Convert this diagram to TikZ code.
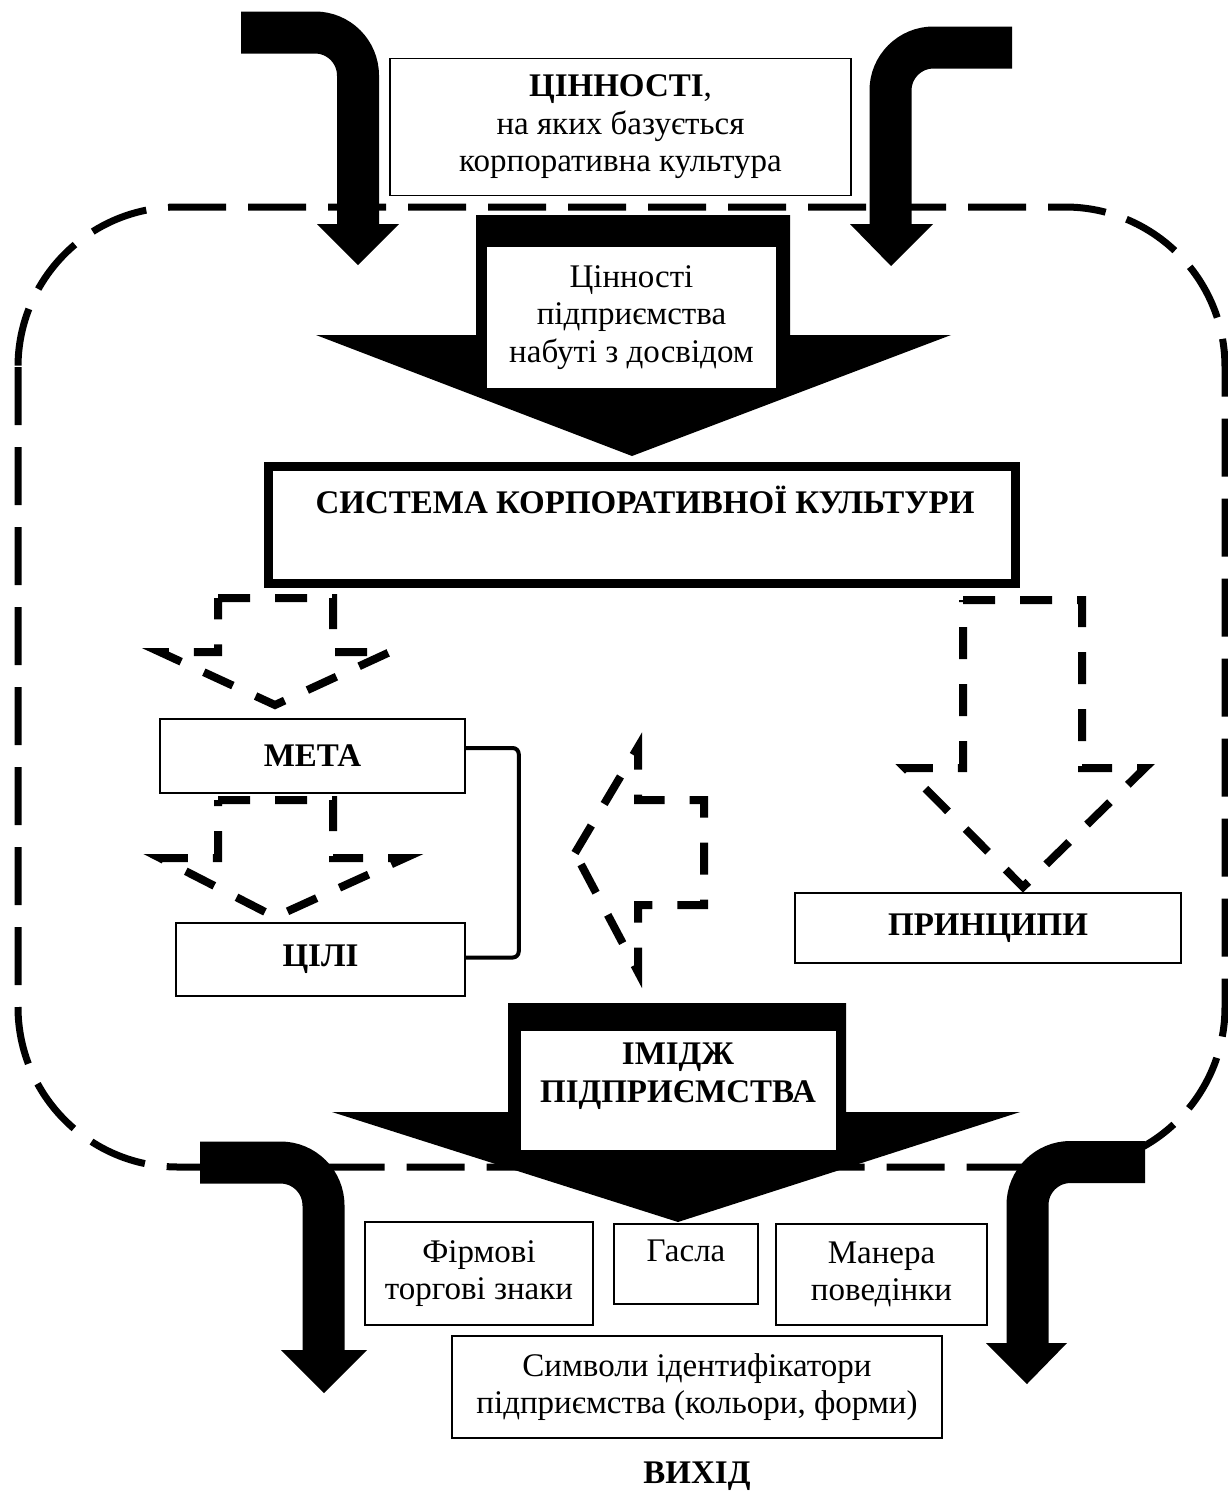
\documentclass[tikz,border=0pt]{standalone}
\usepackage{fontspec}
\setmainfont{Liberation Serif}
\usetikzlibrary{positioning}

\begin{document}
\begin{tikzpicture}[x=1pt,y=-1pt]
\tikzstyle{zone}=[line width=7pt, dash pattern=on 58pt off 22pt, rounded corners=160pt]
\tikzstyle{bentarrow}=[line width=42pt, rounded corners=43pt]
\tikzstyle{hollowarrow}=[line width=8pt, dash pattern=on 32pt off 25pt]
\tikzstyle{txt}=[font=\fontsize{33}{37.5}\selectfont, align=center]
\tikzstyle{boldtxt}=[font=\fontsize{33}{37.5}\selectfont\bfseries, align=center]
\tikzstyle{plainbox}=[draw, line width=1.5pt, fill=white, inner sep=0pt]
\tikzstyle{whitebox}=[fill=white, inner sep=0pt]
\tikzstyle{thickbox}=[draw, line width=9pt, inner sep=0pt]
\tikzstyle{bracketline}=[line width=4pt, rounded corners=6pt]

\useasboundingbox (0,0) rectangle (1228,1492);

\draw[zone] (18,207) rectangle (1225,1167);

\draw[bentarrow] (241,32.5) -- (358,32.5) -- (358,226);
\fill (317,224) -- (399,224) -- (358,265) -- cycle;
\draw[bentarrow] (1012,47.5) -- (890.5,47.5) -- (890.5,226);
\fill (850,224) -- (933,224) -- (891,266) -- cycle;

\node[plainbox, txt, minimum width=461pt, minimum height=137pt] (values) at (620.5,127) {\textbf{ЦІННОСТІ},\\на яких базується\\корпоративна культура};

\fill (476,215) -- (790,215) -- (790,335) -- (951,335) -- (632,456) -- (316,335) -- (476,335) -- cycle;
\node[whitebox, txt, minimum width=289pt, minimum height=141pt] (acquired) at (631.5,317.5) {Цінності\\підприємства\\набуті з досвідом};

\node[thickbox, minimum width=747pt, minimum height=117pt] (system) at (642,525) {};
\node[boldtxt] (systemtxt) at (645,500) {СИСТЕМА КОРПОРАТИВНОЇ КУЛЬТУРИ};

\draw[hollowarrow] (218,598) -- (333,598) -- (333,652) -- (390,652) -- (275,705) -- (160,652) -- (218,652) -- cycle;
\draw[hollowarrow] (218,800) -- (333,800) -- (333,858) -- (405,858) -- (275,917) -- (160,858) -- (218,858) -- cycle;
\draw[hollowarrow] (963,600) -- (1082,600) -- (1082,768) -- (1145,768) -- (1023,887) -- (905,768) -- (963,768) -- cycle;
\draw[hollowarrow] (575,853) -- (638,747) -- (638,800) -- (704,800) -- (704,905) -- (638,905) -- (638,972) -- cycle;

\node[plainbox, boldtxt, minimum width=305pt, minimum height=74pt] (meta) at (312.5,756) {МЕТА};
\node[plainbox, boldtxt, minimum width=289pt, minimum height=73pt] (goals) at (320.5,959.5) {ЦІЛІ};
\node[plainbox, boldtxt, minimum width=386pt, minimum height=70pt] (principles) at (988,928) {ПРИНЦИПИ};
\draw[bracketline] ([yshift=8pt]meta.east) -- ++(53,0) |- ([yshift=2pt]goals.east);

\fill (508,1003) -- (846,1003) -- (846,1112) -- (1020,1112) -- (678,1222) -- (332,1112) -- (508,1112) -- cycle;
\node[whitebox, minimum width=315pt, minimum height=119pt] (image) at (678.5,1090.5) {};
\node[boldtxt] (imagetxt) at (678,1076) {ІМІДЖ\\ПІДПРИЄМСТВА};

\draw[bentarrow] (200,1162.5) -- (323.5,1162.5) -- (323.5,1352);
\fill (281,1350) -- (367,1350) -- (324,1393) -- cycle;
\draw[bentarrow] (1145,1162) -- (1027.5,1162) -- (1027.5,1345);
\fill (986,1343) -- (1067,1343) -- (1027,1384) -- cycle;

\node[plainbox, txt, minimum width=228pt, minimum height=103pt] (brand) at (479,1273.5) {Фірмові\\торгові знаки};
\node[plainbox, minimum width=144pt, minimum height=80pt] (slogans) at (686,1264) {};
\node[txt] (slogantxt) at (686,1251) {Гасла};
\node[plainbox, txt, minimum width=211pt, minimum height=101pt] (manner) at (881.5,1274.5) {Манера\\поведінки};
\node[plainbox, txt, minimum width=490pt, minimum height=102pt] (symbols) at (697,1387) {Символи ідентифікатори\\підприємства (кольори, форми)};
\node[boldtxt, below=20pt of symbols] (output) {ВИХІД};
\end{tikzpicture}
\end{document}
